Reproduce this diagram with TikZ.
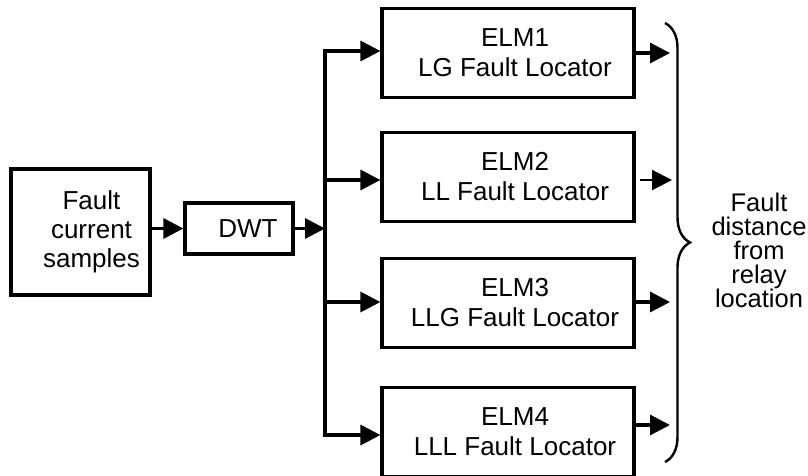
\documentclass[tikz,border=0pt]{standalone}
\usepackage{fontspec}
\setmainfont{Liberation Sans}
\usetikzlibrary{arrows.meta,decorations.pathreplacing}
\begin{document}
\begin{tikzpicture}[x=1pt,y=-1pt,
  box/.style={draw, line width=3.2pt, inner sep=0pt, align=center, font=\fontsize{26}{30}\selectfont},
  elm/.style={box, minimum width=252pt, minimum height=89pt},
  arr/.style={line width=3.2pt, -{Triangle[length=20pt,width=20pt]}},
  thinarr/.style={line width=2.2pt, -{Triangle[length=20pt,width=20pt]}},
  bracestyle/.style={line width=2.4pt, decorate, decoration={brace, amplitude=25pt}},
  note/.style={align=center, inner sep=0pt, font=\fontsize{25.5}{24}\selectfont}
  ]
\useasboundingbox (0,0) rectangle (808,475);
\node[box, minimum width=139pt, minimum height=126pt] (src) at (80.5,232)
  {\hspace*{22pt}Fault\\[-1pt]\hspace*{22pt}current\\[-1pt]\hspace*{22pt}samples};
\node[box, minimum width=108pt, minimum height=51pt] (dwt) at (239,228.5) {\hspace*{18pt}DWT};
\node[elm] (e1) at (508,53)  {\hspace*{14pt}ELM1\\\hspace*{14pt}LG Fault Locator};
\node[elm] (e2) at (508,177) {\hspace*{14pt}ELM2\\\hspace*{14pt}LL Fault Locator};
\node[elm] (e3) at (508,303) {\hspace*{14pt}ELM3\\\hspace*{14pt}LLG Fault Locator};
\node[elm] (e4) at (508,432) {\hspace*{14pt}ELM4\\\hspace*{14pt}LLL Fault Locator};
\node[note] (res) at (759,250) {Fault\\distance\\from\\relay\\location};

\coordinate (bt) at (325,51);
\coordinate (b2) at (325,180);
\coordinate (b3) at (325,302);
\coordinate (bb) at (325,435);

\draw[arr] (src.east |- dwt.west) -- (dwt.west);
\draw[arr] (dwt.east) -- (dwt.east -| bt);
\draw[arr] (b2) -- (bt) -- (bt -| e1.west);
\draw[arr] (b2) -- (bb) -- (bb -| e4.west);
\draw[arr] (b2) -- (b2 -| e2.west);
\draw[arr] (b3) -- (b3 -| e3.west);

\coordinate (o1) at (670,53);
\coordinate (o2) at (672,180);
\coordinate (o3) at (670,302);
\coordinate (o4) at (670,425);
\draw[arr] (e1.east |- o1) -- (o1);
\draw[thinarr, shorten <=4pt] (e2.east |- o2) -- (o2);
\draw[arr] (e3.east |- o3) -- (o3);
\draw[arr] (e4.east |- o4) -- (o4);

\coordinate (brt) at (665,23);
\coordinate (brb) at (665,462);
\draw[bracestyle] (brt) -- (brb);
\end{tikzpicture}
\end{document}
